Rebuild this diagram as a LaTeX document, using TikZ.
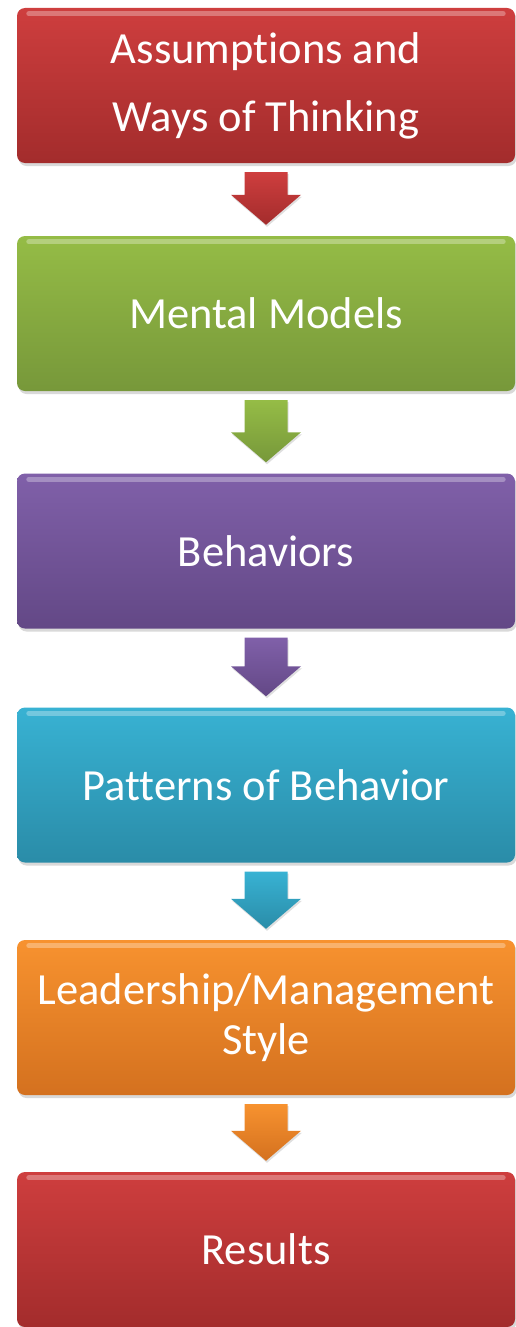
\documentclass[tikz,border=0pt]{standalone}
\usepackage{fontspec}
\setmainfont[RawFeature={-liga;-calt;-clig}]{Carlito}
\usetikzlibrary{calc,shadows}
\definecolor{redtop}{HTML}{CE3E3E}
\definecolor{redbot}{HTML}{A32C2C}
\definecolor{greentop}{HTML}{95BC46}
\definecolor{greenbot}{HTML}{77983A}
\definecolor{purpletop}{HTML}{8060A9}
\definecolor{purplebot}{HTML}{634886}
\definecolor{cyantop}{HTML}{38B2D3}
\definecolor{cyanbot}{HTML}{2A8CA8}
\definecolor{orangetop}{HTML}{F7922F}
\definecolor{orangebot}{HTML}{D4711F}
\newcommand{\stagearrow}[4]{%
  \path[top color=#3, bottom color=#4, drop shadow={opacity=0.25,shadow xshift=1pt,shadow yshift=-2pt}]
    ($(#1.south)+(-21.5,9)$) -- ($(#2.north)+(-21.5,-41)$) -- ($(#2.north)+(-35,-41)$)
    -- ($(#2.north)+(0,-11)$) -- ($(#2.north)+(35,-41)$) -- ($(#2.north)+(21.5,-41)$)
    -- ($(#1.south)+(21.5,9)$) -- cycle;}
\begin{document}
\begin{tikzpicture}[x=1pt,y=-1pt]
    \tikzstyle{every node}+=[inner sep=0pt]
    \tikzstyle{stage}=[rounded corners=8pt, minimum width=498pt, minimum height=155pt, text=white, align=center, font=\fontsize{44.5}{50}\selectfont, drop shadow={opacity=0.3,shadow xshift=1.5pt,shadow yshift=-3pt}]
    \useasboundingbox (0,0) rectangle (516,1327);
    \node [stage, top color=redtop, bottom color=redbot] (assume) at (266,85.5) {Assumptions and\\[18pt]Ways of Thinking};
    \node [stage, top color=greentop, bottom color=greenbot] (mental) at (266,313.5) {Mental Models};
    \node [stage, top color=purpletop, bottom color=purplebot] (behav) at (266,551) {Behaviors};
    \node [stage, top color=cyantop, bottom color=cyanbot] (pattern) at (266,785) {Patterns of Behavior};
    \node [stage, top color=orangetop, bottom color=orangebot] (leader) at (266,1017.5) {Leadership/Management\\Style};
    \node [stage, top color=redtop, bottom color=redbot] (result) at (266,1249.5) {Results};
    \foreach \n in {assume,mental,behav,pattern,leader,result}
        \draw [white, opacity=0.3, line width=5pt, line cap=round] ([xshift=12pt,yshift=-6pt]\n.north west) -- ([xshift=-12pt,yshift=-6pt]\n.north east);
    \stagearrow{assume}{mental}{redtop}{redbot}
    \stagearrow{mental}{behav}{greentop}{greenbot}
    \stagearrow{behav}{pattern}{purpletop}{purplebot}
    \stagearrow{pattern}{leader}{cyantop}{cyanbot}
    \stagearrow{leader}{result}{orangetop}{orangebot}
\end{tikzpicture}
\end{document}
